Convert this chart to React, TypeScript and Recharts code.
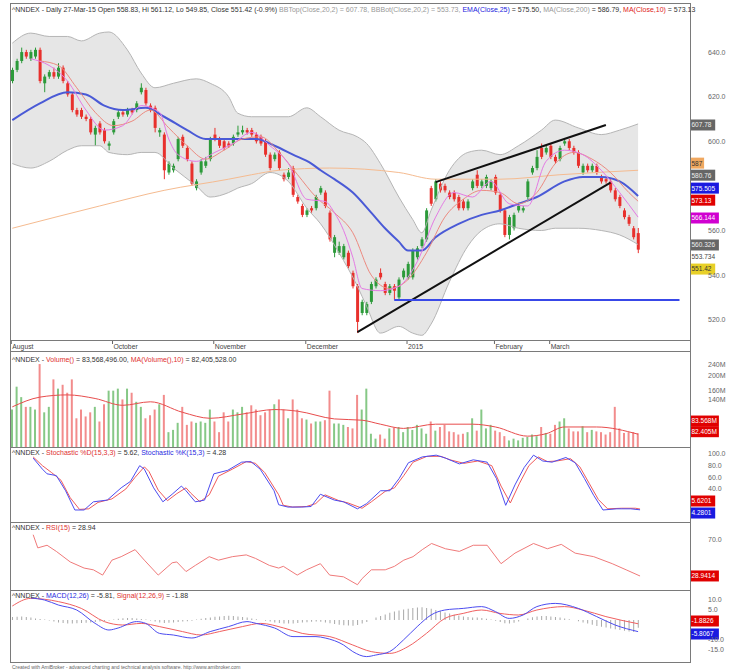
import React from "react";
import { Area, Bar, Cell, ComposedChart, Line, ReferenceLine, XAxis, YAxis } from "recharts";

const W = 733;
const SLOTS = 148;
const FONT = "'Liberation Sans', Arial, sans-serif";
const GREEN = "#2c9a3a";
const RED = "#e8302c";

// daily candles, 27 Aug 2014 .. 27 Mar 2015
const opens = [627,632,636,640,637,638,641,626,629,631,629,633,626,621,614,614,611,610,603,608,605,598,604,611,613,612,614,614,622,623,616,615,604,603,586,587,592,602,597,590,579,586,589,592,603,601,600,599,599,603,604,605,605,603,602,600,594,592,595,585,584,588,575,571,567,570,570,577,577,568,550,550,548,550,541,535,523,523,528,535,541,536,532,535,530,539,539,539,548,553,556,579,574,581,580,577,577,575,573,570,579,585,580,580,579,584,576,569,558,561,569,569,575,586,588,597,595,598,593,592,599,600,597,595,586,589,587,589,584,583,582,578,575,569,566,561,558.83];
const highs = [633,637,642,641,641,642,642,630,632,633,635,634,627,622,615,615,612,611,607,609,606,600,610,614,614,615,615,618,626,624,617,616,606,604,591,590,602,603,598,591,583,592,593,602,606,602,601,600,603,607,607,606,606,604,603,601,595,595,596,586,588,589,576,572,570,571,576,580,578,569,558,555,554,551,542,536,529,528,537,539,543,537,536,536,539,543,546,552,553,557,570,580,583,582,581,578,578,576,574,574,583,587,583,585,583,585,577,570,567,568,572,571,583,589,596,599,598,599,594,598,601,601,598,596,590,590,590,590,585,584,583,579,576,570,567,562,561.12];
const lows = [626,631,635,637,636,637,626,622,628,628,628,626,620,613,611,610,609,603,598,603,599,596,603,610,611,611,612,613,621,616,613,604,602,583,585,586,591,597,591,580,578,585,588,591,600,597,596,597,598,602,603,603,602,599,598,593,587,591,587,582,583,575,572,566,566,568,569,576,570,555,548,549,547,543,534,514,522,522,527,534,538,531,531,529,529,538,538,538,547,552,555,571,573,577,577,574,573,569,569,569,578,579,579,579,578,576,568,557,556,560,568,568,574,585,587,592,594,592,590,591,598,596,594,588,585,586,586,585,581,581,577,573,570,565,562,556,549.85];
const closes = [632,636,640,638,640,641,627,629,631,629,633,627,621,614,612,611,610,604,606,604,600,599,609,613,612,614,613,617,624,617,614,606,605,587,590,589,601,598,592,581,582,591,591,601,601,598,597,598,602,604,605,604,603,600,599,594,588,594,588,583,586,576,573,567,569,569,575,579,571,556,557,553,553,544,535,519,528,527,536,538,539,532,535,533,538,542,545,551,552,556,569,572,582,578,578,575,574,570,570,573,582,580,582,584,582,577,569,558,566,567,571,570,582,588,593,593,597,593,591,597,600,597,595,589,589,587,589,586,582,582,578,574,571,566,563,557,551.42];
// volume, millions
const volumes = [120,170,145,125,125,120,240,115,125,190,165,175,155,190,105,120,108,115,125,100,130,160,160,165,140,165,155,135,125,105,110,120,130,150,85,88,98,125,95,100,98,100,98,120,100,85,115,100,120,115,125,115,128,120,110,115,120,130,140,120,105,140,120,105,103,97,100,100,102,160,97,97,95,92,90,150,120,165,83,77,82,77,90,91,92,85,92,88,95,90,83,100,87,92,95,86,85,82,83,85,105,87,120,90,95,87,85,80,75,77,75,78,79,82,80,92,84,83,95,100,105,90,86,86,93,85,88,86,85,82,85,125,90,84,85,85,83.57];
const macdHist = [1.5,1.6,1.8,1.5,1.2,0.8,0.5,0.2,-0.3,-0.8,-1.2,-1.5,-1.8,-1.8,-1.6,-1.5,-1.4,-1.2,-1,-0.8,-0.5,-0.2,0.3,0.6,0.9,1,1,0.8,0.5,0.3,-0.3,-0.8,-1.2,-1.5,-1.4,-1.2,-1,-0.8,-0.6,-0.4,0.2,0.6,1,1.3,1.6,1.8,2,2.1,2,1.8,1.5,1.2,0.8,0.4,0,-0.4,-0.8,-1.2,-1.5,-1.7,-1.8,-1.7,-1.5,-1.3,-1.1,-0.9,-0.8,-0.9,-1.2,-1.6,-2,-2.4,-2.6,-2.8,-2.9,-2.5,-1.8,-1,0,1.2,2,2.8,3.6,4.2,4.8,5.2,5.6,6,6.2,6.4,6,5.6,5,4.4,3.8,3.2,2.6,2.2,1.8,1.5,1.3,1.2,1,0.6,0.2,-0.4,-1,-1.6,-1.8,-1.4,-0.8,0,0.8,1.4,1.8,2,2,1.8,1.5,1.2,0.8,0.4,0,-0.6,-1.2,-1.8,-2.4,-3,-3.4,-3.8,-4.2,-4.6,-5,-5.4,-5.8,-6,-3.93];

// overlay lines, [candle index, value]
const ma200: [number, number][] = [[0,561],[19,571],[33,578],[47,583],[52,585],[58,587],[69,588],[84,586],[92,583],[106,583],[119,585],[136,587]];
const ema25: [number, number][] = [[0,609.5],[6,617],[12,622],[16,621],[20,616],[24,614],[29,615],[33,611],[38,605],[42,601],[48,601],[53,601],[57,598],[61,594],[65,590],[67,587],[70,583],[74,577],[78,568],[81,561],[84,555],[86,551],[89,551],[92,557],[97,563],[102,567],[106,569],[110,572],[114,575],[120,582],[124,584],[128,584],[132,582],[136,575.5]];
const ma10: [number, number][] = [[6,636],[10,634],[14,624],[18,613],[22,607],[26,609],[30,614],[34,606],[38,598],[42,592],[46,596],[50,601],[54,602],[58,595],[62,585],[66,575],[70,568],[74,559],[78,540],[82,534],[86,538],[90,550],[94,566],[98,574],[102,578],[106,577],[110,572],[114,577],[118,590],[122,595],[126,592],[130,586],[134,577],[136,573.13]];
const ma5: [number, number][] = [[4,637],[8,634],[12,627],[16,614],[20,605],[24,607],[28,616],[32,613],[34,601],[36,594],[40,591],[44,595],[48,599],[52,604],[56,598],[60,590],[64,574],[68,573],[70,568],[72,560],[74,548],[76,534],[80,533],[84,535],[88,546],[92,566],[96,577],[100,575],[104,582],[108,572],[112,571],[116,591],[120,596],[124,594],[128,587],[132,577],[136,566]];
const bandIdx = [0,4,8,12,15,19,21,25,28,31,35,40,43,47,49,52,56,60,64,67,71,75,77,80,84,87,89,91,95,99,102,106,110,115,118,123,128,132,136];
const bandUpper = [644,648.5,647,647,645,648.5,649,641,630.6,624,626,628,626,620,612.6,611,611,611,615,611,605,602,599,590,575,565,559,569,587,595,596,594,598,605,609.5,606,603,605,607.78];
const bandLower = [590,588,591,596,598,598,595,594,595,595,588,580,575,577,579,581,586,582,570,563,550,535,526,514,517,514,513,518,537,553,560,563,561,560,561,561,560,558,553.73];
const volMa: [number, number][] = [[0,125],[6,145],[12,150],[18,142],[24,128],[30,135],[37,115],[43,105],[50,112],[57,120],[62,117],[70,104],[76,102],[80,96],[85,90],[92,96],[100,96],[105,92],[112,80],[116,83],[120,92],[127,92],[136,82.4]];
const stochK: [number, number][] = [[5,93],[7,74],[8,66],[10,63],[12,37],[14,4],[16,4],[18,18],[21,21],[24,42],[26,53],[28,80],[29,74],[31,42],[33,18],[35,31],[37,45],[38,37],[40,18],[42,21],[44,66],[47,72],[50,86],[52,87],[54,74],[57,37],[58,13],[60,9],[63,9],[65,10],[67,31],[70,21],[72,18],[75,6],[77,15],[80,37],[82,37],[84,58],[86,85],[89,95],[92,98],[94,93],[97,83],[100,90],[103,86],[105,58],[107,12],[109,47],[111,77],[113,98],[115,88],[117,86],[120,94],[122,85],[124,58],[126,29],[128,4],[131,6],[134,6],[136,4.28]];
const stochD: [number, number][] = [[5,95],[7,80],[9,68],[11,55],[13,25],[15,5],[17,6],[19,17],[22,23],[25,40],[27,60],[29,78],[30,70],[32,38],[34,20],[36,32],[38,42],[39,33],[41,18],[43,30],[45,62],[48,74],[51,87],[53,84],[55,68],[58,30],[59,12],[61,9],[64,10],[66,15],[68,30],[71,20],[73,16],[76,7],[78,18],[81,36],[83,42],[85,63],[87,86],[90,96],[93,96],[95,90],[98,84],[101,88],[104,80],[106,45],[108,16],[110,50],[112,80],[114,95],[116,87],[118,88],[121,92],[123,78],[125,50],[127,22],[129,6],[132,7],[135,7],[136,5.62]];
const rsi: [number, number][] = [[5,76],[6,61],[8,64],[10,57],[13,45],[16,38],[18,36],[20,30],[22,47],[24,51],[27,59],[29,47],[32,30],[35,44],[36,45],[38,34],[40,41],[43,51],[45,47],[48,51],[51,53],[53,49],[56,41],[58,38],[59,40],[62,30],[64,36],[67,43],[69,30],[72,28],[75,19],[76,26],[78,36],[81,36],[83,40],[85,47],[87,51],[89,59],[91,66],[94,60],[97,57],[100,64],[103,64],[106,43],[109,55],[113,66],[116,60],[119,65],[122,55],[126,51],[130,43],[133,36],[136,28.94]];
const macd: [number, number][] = [[4,11],[7,10],[10,7.5],[14,5],[18,-1.7],[21,-5],[23,-4],[27,-0.8],[29,-1.7],[32,-6.7],[35,-7.5],[39,-9],[43,-5.8],[47,-3.3],[51,-0.8],[53,-1.7],[57,-4],[61,-8.3],[66,-8.3],[68,-9],[72,-12.5],[74,-15.8],[77,-18.3],[79,-17.5],[82,-15.8],[85,-10],[88,-3.3],[91,2.5],[94,5],[98,5.8],[102,6.7],[105,4.2],[108,0.8],[111,2.5],[114,6.7],[118,8.3],[123,5.8],[127,1.7],[131,-2.5],[136,-5.81]];
const signal: [number, number][] = [[0,7],[4,10.8],[10,9.2],[15,5.8],[20,-0.8],[24,-2.5],[28,-1.7],[32,-3.3],[37,-5.8],[41,-7.5],[45,-5.8],[50,-3.3],[54,-1.7],[59,-4],[63,-6.7],[69,-8.3],[74,-12.5],[78,-15.8],[82,-16.7],[86,-13.3],[90,-6.7],[94,0.8],[98,3.3],[102,5],[106,3.3],[110,2.5],[114,5],[120,6.7],[124,5],[129,1.7],[136,-1.88]];

// hand-drawn lines
const channelTop: [number, number][] = [[92,581.7],[129,607.3]];
const channelBottom: [number, number][] = [[75,514.4],[130,581.5]];
const support: [number, number][] = [[83,528.8],[145,528.8]];

const monthIdx = [0,22,44,64,86,105,117];
const monthNames = ["August","October","November","December","2015","February","March"];

// last-value tags on the right scale: [anchor value, text, background, text colour]
const priceTags: [number, string, string, string][] = [
  [607.3,"607.78","#666","#eee"],[590.2,"587","#f0a860","#333"],[584.8,"580.76","#666","#eee"],
  [579,"575.505","#1a1ae0","#fff"],[573.6,"573.13","#e00000","#fff"],[565.6,"566.144","#d000d0","#fff"],
  [553.5,"560.326","#666","#eee"],[548.5,"553.734","","#444"],[542.7,"551.42","#e8d028","#333"],
];
const volTags: [number, string, string, string][] = [[100.7,"83.568M","#e00000","#fff"],[85.6,"82.405M","#e00000","#fff"]];
const stochTags: [number, string, string, string][] = [[19.4,"5.6201","#e00000","#fff"],[-1.2,"4.2801","#1a1ae0","#fff"]];
const rsiTags: [number, string, string, string][] = [[29,"28.9414","#e00000","#fff"]];
const macdTags: [number, string, string, string][] = [[-0.5,"-1.8826","#e00000","#fff"],[-7,"-5.8067","#1a1ae0","#fff"]];

const rows: any[] = Array.from({ length: SLOTS }, (_, i) => ({ i }));
opens.forEach((o, i) => {
  Object.assign(rows[i], { o, h: highs[i], l: lows[i], c: closes[i], hl: [lows[i], highs[i]], vol: volumes[i], hist: macdHist[i] });
});
const put = (key: string, pts: [number, number][]) => pts.forEach(([i, v]) => { rows[i][key] = v; });
put("ma200", ma200); put("ema25", ema25); put("ma10", ma10); put("ma5", ma5); put("volMa", volMa);
put("k", stochK); put("d", stochD); put("rsi", rsi); put("macd", macd); put("signal", signal);
bandIdx.forEach((i, n) => { rows[i].bb = [bandLower[n], bandUpper[n]]; rows[i].bbU = bandUpper[n]; rows[i].bbL = bandLower[n]; });

const Candle = (p: any) => {
  const r = p.payload;
  if (!r || r.o == null) return null;
  const top = Math.min(p.y, p.y + p.height);
  const hgt = Math.abs(p.height);
  const k = hgt / (r.h - r.l || 1);
  const col = r.c >= r.o ? GREEN : RED;
  const cx = p.x + p.width / 2;
  const bodyTop = top + (r.h - Math.max(r.o, r.c)) * k;
  const bodyH = Math.max(1, Math.abs(r.o - r.c) * k);
  return (
    <g>
      <line x1={cx} x2={cx} y1={top} y2={top + hgt} stroke={col} strokeWidth={1} />
      <rect x={cx - 1.5} y={bodyTop} width={3} height={bodyH} fill={col} />
    </g>
  );
};

const Tag = (p: any) => {
  const vb = p.viewBox;
  if (!vb) return null;
  const x = vb.x + vb.width - 1;
  const w = p.text.length * 3.7 + 3;
  return (
    <g>
      {p.bg && <rect x={x} y={vb.y - 5.5} width={w} height={11} fill={p.bg} />}
      <text x={x + 1.5} y={vb.y + 2.4} fontSize={6.5} fill={p.color} fontFamily={FONT}>{p.text}</text>
    </g>
  );
};

const MonthTick = (p: any) => {
  const n = monthIdx.indexOf(p.payload.value);
  return (
    <g>
      <line x1={p.x - 1} x2={p.x - 1} y1={p.y - 2} y2={p.y + 2} stroke="#666" />
      <text x={p.x} y={p.y + 6.5} fontSize={6.8} fill="#444" fontFamily={FONT}>{monthNames[n]}</text>
    </g>
  );
};

const tagLines = (tags: [number, string, string, string][]) =>
  tags.map(([v, text, bg, color]) => (
    <ReferenceLine key={text} y={v} stroke="none" label={<Tag text={text} bg={bg} color={color} />} />
  ));

const yAxisProps = {
  orientation: "right" as const,
  width: 42,
  tickLine: false,
  axisLine: false,
  tickMargin: 11,
  interval: 0 as const,
  allowDataOverflow: true,
  tick: { fontSize: 7, fill: "#666", fontFamily: FONT },
};

const seg = (pts: [number, number][]) => pts.map(([x, y]) => ({ x, y }));

const frame = (top: number, height: number) => (
  <div style={{ position: "absolute", left: 10, top, width: 681, height, border: "1px solid #7a7a7a", boxSizing: "border-box", pointerEvents: "none" }} />
);

const title = (top: number, parts: [string, string][]) => (
  <div style={{ position: "absolute", left: 12, top, fontSize: 7, fontFamily: FONT, whiteSpace: "nowrap", lineHeight: "9px" }}>
    {parts.map(([t, c], n) => <span key={n} style={{ color: c }}>{t}</span>)}
  </div>
);

const abs = (top: number): React.CSSProperties => ({ position: "absolute", left: 0, top });

export default function App() {
  return (
    <div style={{ position: "absolute", left: 0, top: 0, width: W, height: 671, background: "#fff", overflow: "hidden" }}>
      <div style={abs(3)}>
        <ComposedChart width={W} height={348} data={rows} margin={{ top: 0, right: 0, bottom: 0, left: 10 }}>
          <XAxis dataKey="i" height={11} ticks={monthIdx} interval={0} tickLine={false} axisLine={false} tickSize={0} tick={<MonthTick />} />
          <YAxis {...yAxisProps} domain={[510.9, 662]} ticks={[520, 540, 560, 600, 620, 640]} tickFormatter={(v: number) => v.toFixed(1)} />
          <Area dataKey="bb" type="monotone" connectNulls fill="#e6e6e6" fillOpacity={1} stroke="none" isAnimationActive={false} />
          <Line dataKey="bbU" type="monotone" connectNulls stroke="#b5b5b5" strokeWidth={1} dot={false} isAnimationActive={false} />
          <Line dataKey="bbL" type="monotone" connectNulls stroke="#b5b5b5" strokeWidth={1} dot={false} isAnimationActive={false} />
          <Line dataKey="ma200" type="monotone" connectNulls stroke="#f5bb90" strokeWidth={1} dot={false} isAnimationActive={false} />
          <Line dataKey="ema25" type="monotone" connectNulls stroke="#4a5ad6" strokeWidth={2} dot={false} isAnimationActive={false} />
          <Line dataKey="ma10" type="monotone" connectNulls stroke="#ec8a80" strokeWidth={1} dot={false} isAnimationActive={false} />
          <Line dataKey="ma5" type="monotone" connectNulls stroke="#e47ae4" strokeWidth={1} dot={false} isAnimationActive={false} />
          <Bar dataKey="hl" barSize={3} shape={<Candle />} isAnimationActive={false} />
          <ReferenceLine segment={seg(channelTop)} stroke="#111" strokeWidth={2} ifOverflow="visible" />
          <ReferenceLine segment={seg(channelBottom)} stroke="#111" strokeWidth={2} ifOverflow="visible" />
          <ReferenceLine segment={seg(support)} stroke="#3848e8" strokeWidth={2} ifOverflow="visible" />
          {tagLines(priceTags)}
        </ComposedChart>
      </div>

      <div style={abs(351)}>
        <ComposedChart width={W} height={96} data={rows} margin={{ top: 0, right: 0, bottom: 0, left: 10 }}>
          <XAxis dataKey="i" hide />
          <YAxis {...yAxisProps} scale="log" domain={[67.8, 292.8]} ticks={[140, 160, 200, 240]} tickFormatter={(v: number) => `${v}M`} />
          <Bar dataKey="vol" barSize={2} isAnimationActive={false}>
            {rows.map((r) => <Cell key={r.i} fill={r.c >= r.o ? "#86c886" : "#f28c8c"} />)}
          </Bar>
          <Line dataKey="volMa" type="monotone" connectNulls stroke="#e84c4c" strokeWidth={1} dot={false} isAnimationActive={false} />
          {tagLines(volTags)}
        </ComposedChart>
      </div>

      <div style={abs(447)}>
        <ComposedChart width={W} height={75} data={rows} margin={{ top: 0, right: 0, bottom: 0, left: 10 }}>
          <XAxis dataKey="i" hide />
          <YAxis {...yAxisProps} domain={[-16.6, 112]} ticks={[40, 60, 80, 100]} tickFormatter={(v: number) => v.toFixed(1)} />
          <Line dataKey="d" type="linear" connectNulls stroke="#f05a5a" strokeWidth={1} dot={false} isAnimationActive={false} />
          <Line dataKey="k" type="linear" connectNulls stroke="#4c4cf0" strokeWidth={1} dot={false} isAnimationActive={false} />
          {tagLines(stochTags)}
        </ComposedChart>
      </div>

      <div style={abs(522)}>
        <ComposedChart width={W} height={68} data={rows} margin={{ top: 0, right: 0, bottom: 0, left: 10 }}>
          <XAxis dataKey="i" hide />
          <YAxis {...yAxisProps} domain={[13, 90.5]} ticks={[70]} tickFormatter={(v: number) => v.toFixed(1)} />
          <Line dataKey="rsi" type="linear" connectNulls stroke="#f07a7a" strokeWidth={1} dot={false} isAnimationActive={false} />
          {tagLines(rsiTags)}
        </ComposedChart>
      </div>

      <div style={abs(590)}>
        <ComposedChart width={W} height={72} data={rows} margin={{ top: 0, right: 0, bottom: 0, left: 10 }}>
          <XAxis dataKey="i" hide />
          <YAxis {...yAxisProps} domain={[-21, 15]} ticks={[-15, -10, 5, 10]} tickFormatter={(v: number) => v.toFixed(1)} />
          <Bar dataKey="hist" barSize={1} fill="#a8a8a8" isAnimationActive={false} />
          <Line dataKey="signal" type="monotone" connectNulls stroke="#f06060" strokeWidth={1} dot={false} isAnimationActive={false} />
          <Line dataKey="macd" type="monotone" connectNulls stroke="#4c4cf0" strokeWidth={1} dot={false} isAnimationActive={false} />
          {tagLines(macdTags)}
        </ComposedChart>
      </div>

      {frame(3, 338)}
      {frame(340, 12)}
      {frame(351, 97)}
      {frame(447, 76)}
      {frame(522, 69)}
      {frame(590, 73)}

      {title(5, [
        ["^NNDEX - Daily 27-Mar-15 Open 558.83, Hi 561.12, Lo 549.85, Close 551.42 (-0.9%) ", "#333"],
        ["BBTop(Close,20,2) = 607.78, BBBot(Close,20,2) = 553.73, ", "#999"],
        ["EMA(Close,25)", "#2222dd"], [" = 575.50, ", "#333"],
        ["MA(Close,200)", "#999"], [" = 586.79, ", "#333"],
        ["MA(Close,10)", "#e02020"], [" = 573.13", "#333"],
      ])}
      {title(355, [["^NNDEX - ", "#333"], ["Volume()", "#e03030"], [" = 83,568,496.00, ", "#333"], ["MA(Volume(),10)", "#e03030"], [" = 82,405,528.00", "#333"]])}
      {title(448, [["^NNDEX - ", "#333"], ["Stochastic %D(15,3,3)", "#e03030"], [" = 5.62, ", "#333"], ["Stochastic %K(15,3)", "#2a2ae0"], [" = 4.28", "#333"]])}
      {title(523, [["^NNDEX - ", "#333"], ["RSI(15)", "#e03030"], [" = 28.94", "#333"]])}
      {title(591, [["^NNDEX - ", "#333"], ["MACD(12,26)", "#2a2ae0"], [" = -5.81, ", "#333"], ["Signal(12,26,9)", "#e03030"], [" = -1.88", "#333"]])}
      <div style={{ position: "absolute", left: 12, top: 664, fontSize: 5, fontFamily: FONT, color: "#666", whiteSpace: "nowrap" }}>
        Created with AmiBroker - advanced charting and technical analysis software. http://www.amibroker.com
      </div>
    </div>
  );
}
